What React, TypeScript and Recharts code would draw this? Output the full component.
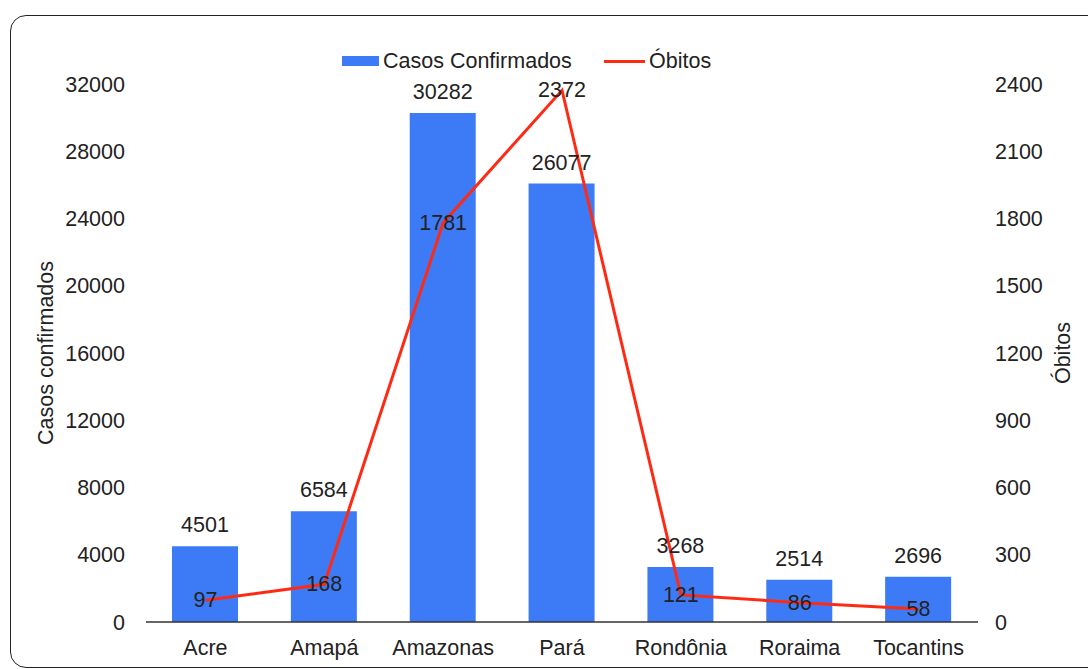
import React from "react";
import { ComposedChart, Bar, Line, XAxis, YAxis, LabelList, Legend, Label } from "recharts";

const states = ["Acre", "Amapá", "Amazonas", "Pará", "Rondônia", "Roraima", "Tocantins"];
const casosConfirmados = [4501, 6584, 30282, 26077, 3268, 2514, 2696];
const obitos = [97, 168, 1781, 2372, 121, 86, 58];
const leftTicks = [0, 4000, 8000, 12000, 16000, 20000, 24000, 28000, 32000];
const rightTicks = [0, 300, 600, 900, 1200, 1500, 1800, 2100, 2400];

const data = states.map((s, i) => ({ state: s, casos: casosConfirmados[i], obitos: obitos[i] }));

const FONT = "'Liberation Sans', Arial, Helvetica, sans-serif";
const FS = 21.5;
const TXT = "#222";
const BLUE = "#3d7bf6";
const RED = "#ff2a14";

const BarLabel = (props: any) => {
  const { x, y, width, value } = props;
  return (
    <text x={Number(x) + Number(width) / 2} y={Number(y) - 21} textAnchor="middle" dominantBaseline="central"
      fontFamily={FONT} fontSize={FS} fill={TXT}>{value}</text>
  );
};

const LineLabel = (props: any) => {
  const { x, y, value } = props;
  return (
    <text x={Number(x)} y={Number(y)} textAnchor="middle" dominantBaseline="central"
      fontFamily={FONT} fontSize={FS} fill={TXT}>{value}</text>
  );
};

const LegendContent = () => (
  <div style={{ position: "relative", width: 1088, height: 30, fontFamily: FONT, fontSize: FS, color: TXT }}>
    <div style={{ position: "absolute", left: 342, top: 8, width: 37, height: 10, background: BLUE }} />
    <span style={{ position: "absolute", left: 383, top: 0, lineHeight: "26px", whiteSpace: "nowrap" }}>Casos Confirmados</span>
    <div style={{ position: "absolute", left: 604, top: 12, width: 41, height: 3, background: RED }} />
    <span style={{ position: "absolute", left: 649, top: 0, lineHeight: "26px", whiteSpace: "nowrap" }}>Óbitos</span>
  </div>
);

const LeftTitle = (props: any) => {
  const vb = props.viewBox || {};
  const cx = vb.x + 46;
  const cy = vb.y + vb.height / 2;
  return (
    <text x={cx} y={cy} transform={`rotate(-90 ${cx} ${cy})`} textAnchor="middle" dominantBaseline="central"
      fontFamily={FONT} fontSize={FS} fill={TXT}>Casos confirmados</text>
  );
};

const RightTitle = (props: any) => {
  const vb = props.viewBox || {};
  const cx = vb.x + 85;
  const cy = vb.y + vb.height / 2;
  return (
    <text x={cx} y={cy} transform={`rotate(-90 ${cx} ${cy})`} textAnchor="middle" dominantBaseline="central"
      fontFamily={FONT} fontSize={FS} fill={TXT}>Óbitos</text>
  );
};

export default function App() {
  const tickStyle = { fontFamily: FONT, fontSize: FS, fill: TXT };
  return (
    <div style={{ position: "absolute", left: 0, top: 0, width: 1088, height: 669, overflow: "hidden", background: "#fff" }}>
      <div style={{ position: "absolute", left: 10, top: 15, width: 1120, height: 651, border: "1.5px solid #222", borderRadius: 16 }} />
      <div style={{ position: "absolute", left: 0, top: 0 }}>
        <ComposedChart width={1088} height={669} data={data} margin={{ top: 54, right: 0, bottom: 0, left: 0 }} barCategoryGap={0}>
          <XAxis dataKey="state" xAxisId="x" height={47} tickSize={0} tickMargin={18} tick={tickStyle}
            axisLine={{ stroke: "#333", strokeWidth: 1.5 }} tickLine={false} interval={0} />
          <YAxis yAxisId="left" orientation="left" width={146} domain={[0, 32000]} ticks={leftTicks}
            tickSize={0} tickMargin={21} tick={tickStyle} axisLine={false} tickLine={false} interval={0}>
            <Label content={<LeftTitle />} />
          </YAxis>
          <YAxis yAxisId="right" orientation="right" width={110} domain={[0, 2400]} ticks={rightTicks}
            tickSize={0} tickMargin={17} tick={{ ...tickStyle, textAnchor: "start" }} axisLine={false} tickLine={false} interval={0}>
            <Label content={<RightTitle />} />
          </YAxis>
          <Legend layout="vertical" align="center" verticalAlign="top" content={<LegendContent />}
            wrapperStyle={{ position: "absolute", top: 48, left: 0, width: 1088 }} />
          <Bar dataKey="casos" xAxisId="x" yAxisId="left" fill={BLUE} barSize={66} isAnimationActive={false}>
            <LabelList dataKey="casos" content={<BarLabel />} />
          </Bar>
          <Line dataKey="obitos" xAxisId="x" yAxisId="right" stroke={RED} strokeWidth={3} dot={false}
            type="linear" isAnimationActive={false}>
            <LabelList dataKey="obitos" content={<LineLabel />} />
          </Line>
        </ComposedChart>
      </div>
    </div>
  );
}
